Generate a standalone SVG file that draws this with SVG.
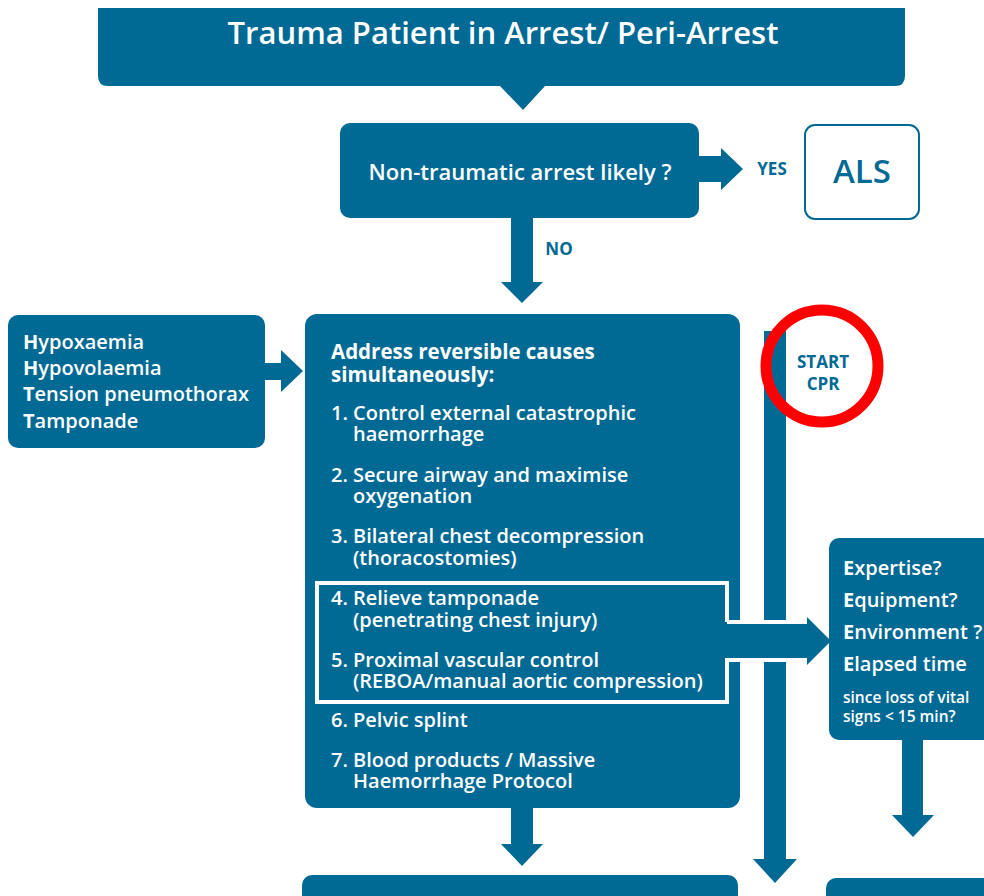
<svg xmlns="http://www.w3.org/2000/svg" width="984" height="896" viewBox="0 0 984 896">
<defs>
<style>
.box{fill:#006994}
.t{font-family:"Open Sans",Lato,"Liberation Sans",sans-serif;fill:#fff;font-weight:600}
.b{font-weight:bold}
.lbl{font-family:"Open Sans",Lato,"Liberation Sans",sans-serif;font-weight:bold;fill:#006994}
.arr{fill:#006994}
</style>
</defs>
<rect width="984" height="896" fill="#fff"/>

<g id="connectors">
<polygon class="arr" points="697,156 721,156 721,148 743,169 721,190 721,182 697,182"/>
<polygon class="arr" points="511,216 533,216 533,282 543,282 522,303 501,282 511,282"/>
<polygon class="arr" points="263,363 281,363 281,350 303,371 281,392 281,380 263,380"/>
<polygon class="arr" points="511,806 533,806 533,844 543,844 522,866 501,844 511,844"/>
<polygon class="arr" points="764,331 786,331 786,859 797,859 775,883 753,859 764,859"/>
<polygon class="arr" points="902,738 923,738 923,815 934,815 913,837 892,815 902,815"/>
</g>

<g id="title">
<path class="box" d="M98,8 H905 V76 Q905,86 895,86 H545 L523,110 L500,86 H108 Q98,86 98,76 Z"/>
<text class="t" x="503" y="44" font-size="30" text-anchor="middle" textLength="551" lengthAdjust="spacingAndGlyphs">Trauma Patient in Arrest/ Peri-Arrest</text>
</g>

<g id="question">
<rect class="box" x="340" y="123" width="359" height="95" rx="10"/>
<text class="t" x="520" y="180" font-size="21" text-anchor="middle" textLength="303" lengthAdjust="spacingAndGlyphs">Non-traumatic arrest likely ?</text>
</g>

<g id="yes-label"><text class="lbl" x="772" y="175" font-size="17" text-anchor="middle">YES</text></g>
<g id="no-label"><text class="lbl" x="559" y="255" font-size="17" text-anchor="middle">NO</text></g>

<g id="als">
<rect x="805" y="125" width="114" height="94" rx="10" fill="#fff" stroke="#006994" stroke-width="2"/>
<text x="862" y="183" font-size="33" text-anchor="middle" style="font-family:'Open Sans',Lato,'Liberation Sans',sans-serif;font-weight:600;fill:#006994">ALS</text>
</g>

<g id="hhtt">
<rect class="box" x="8" y="315" width="257" height="133" rx="10"/>
<text class="t" font-size="20">
<tspan x="23" y="349"><tspan class="b">H</tspan>ypoxaemia</tspan>
<tspan x="23" y="375"><tspan class="b">H</tspan>ypovolaemia</tspan>
<tspan x="23" y="401"><tspan class="b">T</tspan>ension pneumothorax</tspan>
<tspan x="23" y="428"><tspan class="b">T</tspan>amponade</tspan>
</text>
</g>

<g id="main">
<rect class="box" x="305" y="314" width="435" height="494" rx="12"/>
<text class="t b" font-size="20.5">
<tspan x="331" y="359">Address reversible causes</tspan>
<tspan x="331" y="382">simultaneously:</tspan>
</text>
<text class="t" font-size="20">
<tspan x="331" y="420">1.</tspan><tspan x="353" y="420">Control external catastrophic</tspan>
<tspan x="353" y="441">haemorrhage</tspan>
<tspan x="331" y="482">2.</tspan><tspan x="353" y="482">Secure airway and maximise</tspan>
<tspan x="353" y="503">oxygenation</tspan>
<tspan x="331" y="543">3.</tspan><tspan x="353" y="543">Bilateral chest decompression</tspan>
<tspan x="353" y="565">(thoracostomies)</tspan>
<tspan x="331" y="605">4.</tspan><tspan x="353" y="605">Relieve tamponade</tspan>
<tspan x="353" y="627">(penetrating chest injury)</tspan>
<tspan x="331" y="667">5.</tspan><tspan x="353" y="667">Proximal vascular control</tspan>
<tspan x="353" y="688">(REBOA/manual aortic compression)</tspan>
<tspan x="331" y="727">6.</tspan><tspan x="353" y="727">Pelvic splint</tspan>
<tspan x="331" y="767">7.</tspan><tspan x="353" y="767">Blood products / Massive</tspan>
<tspan x="353" y="788">Haemorrhage Protocol</tspan>
</text>
</g>

<g id="highlight-arrow">
<rect class="arr" x="729" y="624" width="80" height="34"/>
<polygon class="arr" points="807,617 831,641 807,665"/>
<path d="M727,622 V583 H317 V702 H727 V660 H790 M727,622 H790" fill="none" stroke="#fff" stroke-width="4"/>
</g>

<g id="start-cpr">
<text class="lbl" font-size="17" text-anchor="middle"><tspan x="823" y="368">START</tspan><tspan x="823" y="390">CPR</tspan></text>
</g>

<g id="eeee">
<rect class="box" x="829" y="538" width="170" height="202" rx="10"/>
<text class="t" font-size="20">
<tspan x="843" y="575"><tspan class="b">E</tspan>xpertise?</tspan>
<tspan x="843" y="607"><tspan class="b">E</tspan>quipment?</tspan>
<tspan x="843" y="639"><tspan class="b">E</tspan>nvironment ?</tspan>
<tspan x="843" y="671"><tspan class="b">E</tspan>lapsed time</tspan>
</text>
<text class="t" font-size="15.5">
<tspan x="843" y="703">since loss of vital</tspan>
<tspan x="843" y="722">signs &lt; 15 min?</tspan>
</text>
</g>

<g id="bottom-left"><rect class="box" x="302" y="875" width="436" height="40" rx="10"/></g>
<g id="bottom-right"><rect class="box" x="826" y="878" width="170" height="40" rx="10"/></g>

<g id="highlight-circle">
<circle cx="822" cy="366" r="56" fill="none" stroke="#ff0000" stroke-width="11"/>
</g>
</svg>
